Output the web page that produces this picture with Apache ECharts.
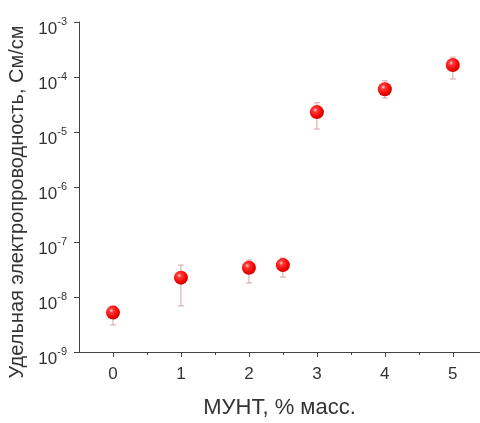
<!DOCTYPE html>
<html>
<head>
<meta charset="utf-8">
<script src="https://cdn.jsdelivr.net/npm/echarts@6/dist/echarts.min.js"></script>
<style>
html,body{margin:0;padding:0;background:#fff;}
#chart{width:480px;height:423px;}
</style>
</head>
<body>
<div id="chart"></div>
<script>
// Data
const xValues = [0, 1, 2, 2.5, 3, 4, 5];
const conductivity = [5.2e-9, 2.25e-8, 3.4e-8, 3.8e-8, 2.3e-5, 6.0e-5, 1.65e-4];
const errLow = [3.1e-9, 6.9e-9, 1.8e-8, 2.3e-8, 1.13e-5, 4.15e-5, 9.2e-5];
const errHigh = [6.8e-9, 3.8e-8, 4.7e-8, 5.1e-8, 3.4e-5, 8.5e-5, 2.3e-4];
const xTickLabels = [0, 1, 2, 3, 4, 5];
const xMinorTicks = [0.5, 1.5, 2.5, 3.5, 4.5];
const yTickExponents = [-9, -8, -7, -6, -5, -4, -3];

const xAxisName = 'МУНТ, % масс.';
const yAxisName = 'Удельная электропроводность, См/см';

const font = '"Liberation Sans", Arial, sans-serif';
const axisColor = '#444';
const textColor = '#333';

const points = xValues.map((x, i) => [x, conductivity[i]]);
const bars = xValues.map((x, i) => [x, errLow[i], errHigh[i]]);

const chart = echarts.init(document.getElementById('chart'), null, {renderer: 'canvas'});

chart.setOption({
  animation: false,
  backgroundColor: '#fff',
  grid: {left: 79, right: 0, top: 22, bottom: 71, containLabel: false, outerBoundsMode: 'none'},
  xAxis: [{
    type: 'value',
    min: -0.5,
    max: 5.4,
    name: xAxisName,
    nameLocation: 'middle',
    nameGap: 45,
    nameTextStyle: {fontFamily: font, fontSize: 22, color: textColor},
    axisLine: {show: true, onZero: false, lineStyle: {color: axisColor, width: 1}},
    axisTick: {show: true, inside: false, length: 5, customValues: xTickLabels, lineStyle: {color: axisColor}},
    axisLabel: {customValues: xTickLabels, margin: 14, fontFamily: font, fontSize: 17, color: textColor},
    splitLine: {show: false}
  }, {
    type: 'value',
    min: -0.5,
    max: 5.4,
    position: 'bottom',
    offset: 0,
    axisLine: {show: false},
    axisTick: {show: true, inside: false, length: 3, customValues: xMinorTicks, lineStyle: {color: axisColor}},
    axisLabel: {show: false},
    splitLine: {show: false}
  }],
  yAxis: {
    type: 'log',
    logBase: 10,
    min: Math.pow(10, yTickExponents[0]),
    max: Math.pow(10, yTickExponents[yTickExponents.length - 1]),
    splitNumber: 6,
    name: yAxisName,
    nameLocation: 'middle',
    nameGap: 45,
    nameTextStyle: {fontFamily: font, fontSize: 20, color: textColor, padding: [0, 30, 0, 0]},
    axisLine: {show: true, onZero: false, lineStyle: {color: axisColor, width: 1}},
    axisTick: {show: true, inside: false, length: 5, lineStyle: {color: axisColor}},
    axisLabel: {
      margin: 12,
      padding: [10, 0, 0, 0],
      formatter: function (v) {
        const e = Math.round(Math.log10(v));
        return '{b|10}{s|' + e + '}';
      },
      rich: {
        b: {fontFamily: font, fontSize: 17, color: textColor, lineHeight: 22, verticalAlign: 'bottom'},
        s: {fontFamily: font, fontSize: 11, color: textColor, lineHeight: 22, verticalAlign: 'top'}
      }
    },
    splitLine: {show: false}
  },
  series: [{
    type: 'custom',
    xAxisIndex: 0,
    z: 1,
    data: bars,
    encode: {x: 0, y: [1, 2]},
    renderItem: function (params, api) {
      const x = api.value(0);
      const lo = api.coord([x, api.value(1)]);
      const hi = api.coord([x, api.value(2)]);
      const half = 3;
      const style = {stroke: '#d8a3a3', lineWidth: 1};
      return {
        type: 'group',
        children: [
          {type: 'line', shape: {x1: lo[0], y1: lo[1], x2: hi[0], y2: hi[1]}, style: style},
          {type: 'line', shape: {x1: lo[0] - half, y1: lo[1], x2: lo[0] + half, y2: lo[1]}, style: style},
          {type: 'line', shape: {x1: hi[0] - half, y1: hi[1], x2: hi[0] + half, y2: hi[1]}, style: style}
        ]
      };
    }
  }, {
    type: 'scatter',
    xAxisIndex: 0,
    z: 2,
    data: points,
    symbol: 'circle',
    symbolSize: 14,
    itemStyle: {
      opacity: 1,
      color: {
        type: 'radial', x: 0.38, y: 0.35, r: 0.7,
        colorStops: [
          {offset: 0, color: '#ffd6d6'},
          {offset: 0.22, color: '#ff3a3a'},
          {offset: 0.7, color: '#f20000'},
          {offset: 1, color: '#c80000'}
        ]
      }
    }
  }]
});
</script>
</body>
</html>
